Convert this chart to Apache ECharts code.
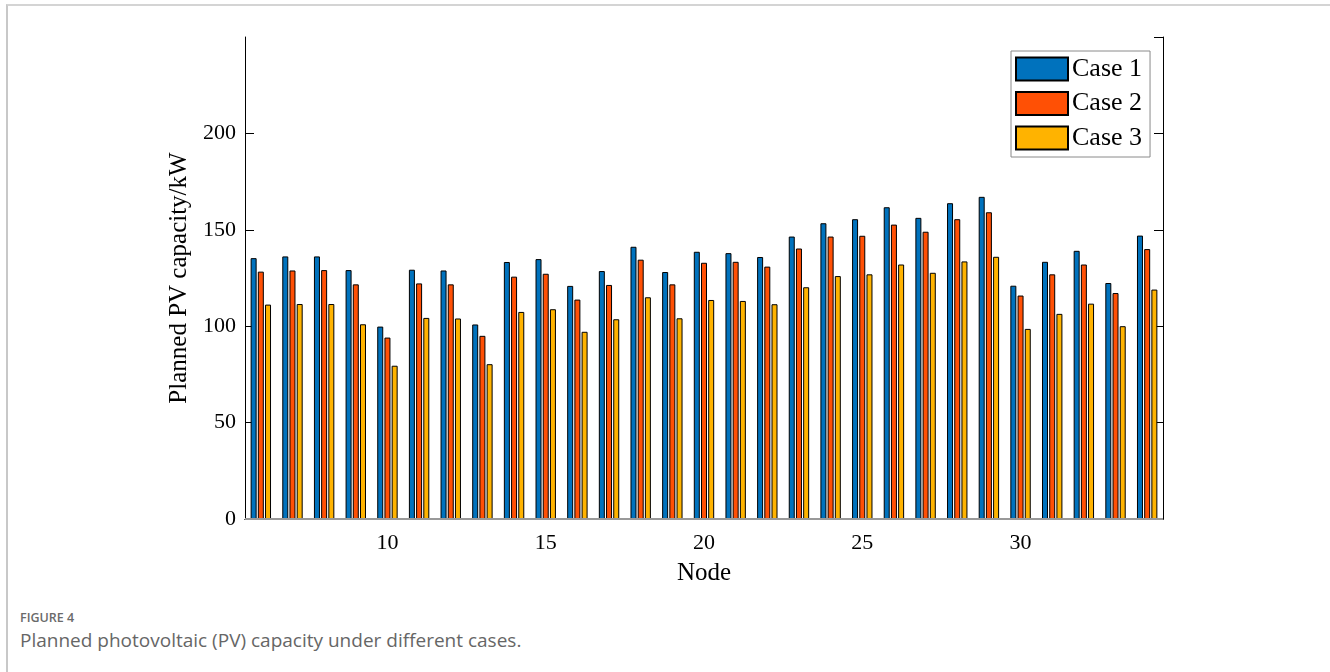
<!DOCTYPE html>
<html>
<head>
<meta charset="utf-8">
<script src="https://cdn.jsdelivr.net/npm/echarts@6/dist/echarts.min.js"></script>
<style>
   html, body { margin: 0; padding: 0; background: #fff; }
   .frame {
      position: absolute; left: 6px; top: 4px; width: 1322px; height: 700px;
      border-top: 2px solid #d4d4d4; border-left: 2px solid #c8c8c8; border-right: 2px solid #c8c8c8;
   }
   #chart { position: absolute; left: 0; top: 0; width: 1330px; height: 600px; }
   .cap { position: absolute; left: 20px; font-family: "Open Sans", sans-serif; color: #666; white-space: nowrap; }
   .cap-1 { top: 609px; font-size: 12.5px; font-weight: 600; color: #6a6a6a; }
   .cap-2 { top: 627px; font-size: 19px; color: #666; }
</style>
</head>
<body>
<div class="frame"></div>
<div id="chart"></div>
<div class="cap cap-1">FIGURE 4</div>
<div class="cap cap-2">Planned photovoltaic (PV) capacity under different cases.</div>
<script>
// nodes 6 .. 34
const nodes = ['6','7','8','9','10','11','12','13','14','15','16','17','18','19','20',
   '21','22','23','24','25','26','27','28','29','30','31','32','33','34'];
const case1 = [135.3,136.2,136.2,129.1,99.8,129.3,128.9,100.9,133.3,134.8,120.9,128.6,141.2,128.1,138.6,
   137.9,135.9,146.5,153.4,155.5,161.7,156.2,163.8,167.1,121.0,133.4,139.1,122.4,147.0];
const case2 = [128.3,128.9,129.1,121.7,94.1,122.2,121.7,95.0,125.7,127.2,113.8,121.4,134.5,121.7,132.9,
   133.4,130.9,140.3,146.5,146.9,152.7,149.0,155.5,159.1,115.9,126.9,132.0,117.2,140.0];
const case3 = [111.2,111.5,111.5,101.0,79.5,104.3,104.0,80.3,107.4,108.8,97.1,103.6,115.0,104.1,113.6,
   113.1,111.4,120.2,126.0,126.9,132.0,127.7,133.6,136.0,98.6,106.4,111.7,100.0,119.0];
const caseNames = ['Case 1','Case 2','Case 3'];
const colors = ['#0072BD','#FF5005','#FFB300'];

const serif = '"Liberation Serif", "Times New Roman", serif';
const tickShown = (i) => Number(nodes[i]) % 5 === 0;

const chart = echarts.init(document.getElementById('chart'));
const axisLine = { show: true, lineStyle: { color: '#000', width: 1 } };
const option = {
   animation: false,
   grid: { left: 245, top: 37, width: 918, height: 482 },
   legend: {
      orient: 'vertical',
      left: 1011, top: 51,
      icon: 'rect',
      itemWidth: 52, itemHeight: 23, itemGap: 8.5,
      padding: [5, 8, 6, 4],
      borderColor: '#8a8a8a', borderWidth: 1,
      backgroundColor: '#fff',
      textStyle: { fontFamily: serif, fontSize: 26, color: '#000', lineHeight: 23, padding: [0, 0, 0, -1] },
      data: caseNames
   },
   xAxis: [
      {
         type: 'category', data: nodes, position: 'bottom',
         name: 'Node', nameLocation: 'middle', nameGap: 42,
         nameTextStyle: { fontFamily: serif, fontSize: 25, color: '#000' },
         axisLine,
         axisTick: { inside: true, length: 9, alignWithLabel: true, interval: tickShown, lineStyle: { color: '#000' } },
         axisLabel: { interval: tickShown, margin: 13, fontFamily: serif, fontSize: 22, color: '#000' },
         splitLine: { show: false }
      },
      {
         type: 'category', data: nodes, position: 'top',
         axisLine,
         axisTick: { inside: true, length: 9, alignWithLabel: true, interval: tickShown, lineStyle: { color: '#000' } },
         axisLabel: { show: false },
         splitLine: { show: false }
      }
   ],
   yAxis: [
      {
         type: 'value', min: 0, max: 250, interval: 50, position: 'left',
         name: 'Planned PV capacity/kW', nameLocation: 'middle', nameGap: 48,
         nameTextStyle: { fontFamily: serif, fontSize: 25, color: '#000' },
         axisLine,
         axisTick: { show: true, inside: true, length: 9, lineStyle: { color: '#000' } },
         axisLabel: { showMaxLabel: false, margin: 9, fontFamily: serif, fontSize: 22, color: '#000' },
         splitLine: { show: false }
      },
      {
         type: 'value', min: 0, max: 250, interval: 50, position: 'right',
         axisLine,
         axisTick: { show: true, inside: true, length: 9, lineStyle: { color: '#000' } },
         axisLabel: { show: false },
         splitLine: { show: false }
      }
   ],
   series: [case1, case2, case3].map((d, i) => ({
      name: caseNames[i],
      type: 'bar',
      data: d,
      barWidth: 6,
      barGap: '20%',
      itemStyle: { color: colors[i], borderColor: '#000', borderWidth: 1 },
      markLine: i === 0 ? {
         silent: true, symbol: 'none', label: { show: false },
         lineStyle: { color: '#999', width: 2, type: 'solid' },
         data: [{ yAxis: 0 }]
      } : undefined
   }))
};
chart.setOption(option);
</script>
</body>
</html>
